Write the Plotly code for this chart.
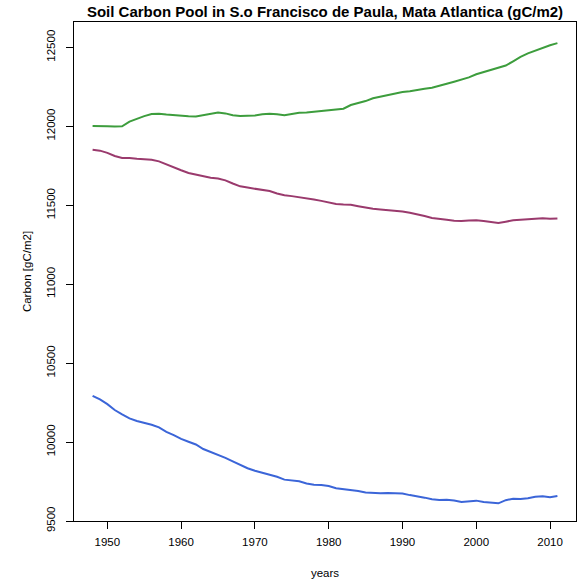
import plotly.graph_objects as go

years = list(range(1948, 2012))

pool_green = [
    12002, 12003, 12001, 11999, 12000, 12030, 12050, 12065, 12078, 12080,
    12075, 12070, 12066, 12064, 12062, 12072, 12080, 12088, 12082, 12070,
    12065, 12065, 12068, 12076, 12080, 12076, 12070, 12078, 12086, 12088,
    12092, 12100, 12101, 12104, 12112, 12135, 12148, 12160, 12178, 12188,
    12195, 12208, 12217, 12223, 12232, 12238, 12244, 12255, 12270, 12283,
    12296, 12310, 12330, 12344, 12356, 12370, 12385, 12412, 12440, 12462,
    12480, 12498, 12514, 12527,
]

pool_purple = [
    11852, 11846, 11832, 11812, 11800, 11800, 11795, 11790, 11788, 11778,
    11758, 11740, 11722, 11705, 11694, 11682, 11674, 11670, 11658, 11638,
    11620, 11612, 11606, 11600, 11590, 11575, 11563, 11558, 11552, 11542,
    11536, 11528, 11518, 11508, 11505, 11503, 11494, 11484, 11478, 11474,
    11470, 11465, 11460, 11452, 11444, 11432, 11420, 11412, 11408, 11402,
    11400, 11404, 11405, 11400, 11394, 11388, 11396, 11405, 11408, 11410,
    11416, 11418, 11414, 11416,
]

pool_blue = [
    10293, 10270, 10240, 10203, 10175, 10150, 10134, 10124, 10110, 10093,
    10065, 10044, 10020, 10002, 9985, 9956, 9938, 9920, 9900, 9878,
    9855, 9834, 9818, 9806, 9794, 9780, 9762, 9756, 9752, 9738,
    9730, 9728, 9722, 9708, 9702, 9700, 9690, 9680, 9676, 9676,
    9678, 9676, 9674, 9664, 9658, 9648, 9638, 9633, 9635, 9630,
    9620, 9624, 9629, 9620, 9616, 9612, 9632, 9641, 9640, 9644,
    9654, 9656, 9650, 9658,
]

x_ticks = [1950, 1960, 1970, 1980, 1990, 2000, 2010]
y_ticks = [9500, 10000, 10500, 11000, 11500, 12000, 12500]

series = [
    (pool_green, "#3d9d3d"),
    (pool_purple, "#9a3a6d"),
    (pool_blue, "#3b65d8"),
]

fig = go.Figure()
for values, color in series:
    fig.add_trace(go.Scatter(
        x=years, y=values, mode="lines",
        line=dict(color=color, width=2),
        showlegend=False, hoverinfo="skip",
    ))

font_family = "Liberation Sans, Arial, sans-serif"
label_size = 11.5

fig.update_layout(
    width=578, height=582,
    margin=dict(l=74, r=2, t=22, b=61, autoexpand=False),
    paper_bgcolor="white", plot_bgcolor="white",
    font=dict(family=font_family, size=label_size, color="black"),
    title=dict(
        text="<b>Soil Carbon Pool in S.o Francisco de Paula, Mata Atlantica (gC/m2)</b>",
        x=(74 + 576) / 2 / 578, xanchor="center",
        y=1 - 12 / 582, yanchor="middle",
        font=dict(size=15, family=font_family, color="black"),
    ),
    xaxis=dict(
        range=[1945.48, 2013.52],
        tickvals=x_ticks, ticktext=[str(v) for v in x_ticks],
        ticks="outside", ticklen=7, tickwidth=1, tickcolor="black",
        ticklabelstandoff=3,
        showline=True, linecolor="black", linewidth=1, mirror=True,
        showgrid=False, zeroline=False, automargin=False,
        tickfont=dict(size=label_size),
        title=dict(text="years", font=dict(size=label_size), standoff=22),
    ),
    yaxis=dict(
        range=[9500, 12661],
        tickvals=y_ticks, ticktext=[str(v) for v in y_ticks],
        tickangle=-90,
        ticks="outside", ticklen=7, tickwidth=1, tickcolor="black",
        ticklabelstandoff=6,
        showline=True, linecolor="black", linewidth=1, mirror=True,
        showgrid=False, zeroline=False, automargin=False,
        tickfont=dict(size=label_size),
        title=dict(text="Carbon [gC/m2]", font=dict(size=label_size), standoff=11),
    ),
)

fig.write_html("out.html")
